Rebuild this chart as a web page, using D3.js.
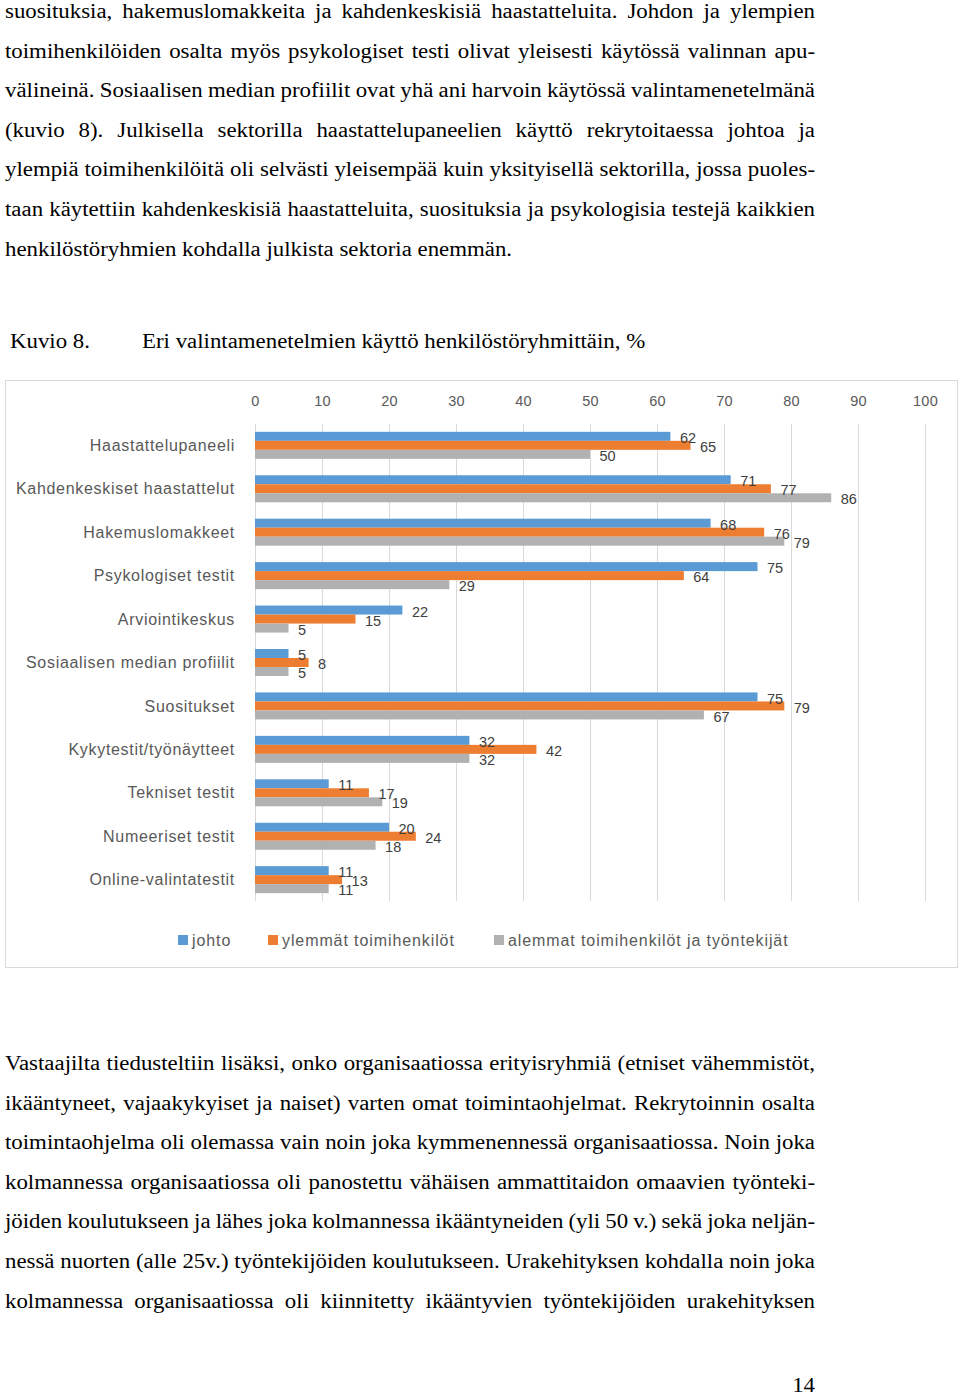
<!DOCTYPE html>
<html>
<head>
<meta charset="utf-8">
<script src="https://cdn.jsdelivr.net/npm/d3@7"></script>
<style>
  body { margin: 0; background: #fff; }
  svg { display: block; }
</style>
</head>
<body>
<svg id="page" width="960" height="1397"></svg>
<script>
// chart data (kuvio 8)
var categories = [
  'Haastattelupaneeli',
  'Kahdenkeskiset haastattelut',
  'Hakemuslomakkeet',
  'Psykologiset testit',
  'Arviointikeskus',
  'Sosiaalisen median profiilit',
  'Suositukset',
  'Kykytestit/työnäytteet',
  'Tekniset testit',
  'Numeeriset testit',
  'Online-valintatestit'
]
var seriesNames = ['johto', 'ylemmät toimihenkilöt', 'alemmat toimihenkilöt ja työntekijät']
var johto = [62, 71, 68, 75, 22, 5, 75, 32, 11, 20, 11]
var ylemmat = [65, 77, 76, 64, 15, 8, 79, 42, 17, 24, 13]
var alemmat = [50, 86, 79, 29, 5, 5, 67, 32, 19, 18, 11]
var xTicks = [0, 10, 20, 30, 40, 50, 60, 70, 80, 90, 100]

// page text around the figure
var topLines = [
  'suosituksia, hakemuslomakkeita ja kahdenkeskisiä haastatteluita. Johdon ja ylempien',
  'toimihenkilöiden osalta myös psykologiset testi olivat yleisesti käytössä valinnan apu-',
  'välineinä. Sosiaalisen median profiilit ovat yhä ani harvoin käytössä valintamenetelmänä',
  '(kuvio 8). Julkisella sektorilla haastattelupaneelien käyttö rekrytoitaessa johtoa ja',
  'ylempiä toimihenkilöitä oli selvästi yleisempää kuin yksityisellä sektorilla, jossa puoles-',
  'taan käytettiin kahdenkeskisiä haastatteluita, suosituksia ja psykologisia testejä kaikkien',
  'henkilöstöryhmien kohdalla julkista sektoria enemmän.'
]
var bottomLines = [
  'Vastaajilta tiedusteltiin lisäksi, onko organisaatiossa erityisryhmiä (etniset vähemmistöt,',
  'ikääntyneet, vajaakykyiset ja naiset) varten omat toimintaohjelmat. Rekrytoinnin osalta',
  'toimintaohjelma oli olemassa vain noin joka kymmenennessä organisaatiossa. Noin joka',
  'kolmannessa organisaatiossa oli panostettu vähäisen ammattitaidon omaavien työnteki-',
  'jöiden koulutukseen ja lähes joka kolmannessa ikääntyneiden (yli 50 v.) sekä joka neljän-',
  'nessä nuorten (alle 25v.) työntekijöiden koulutukseen. Urakehityksen kohdalla noin joka',
  'kolmannessa organisaatiossa oli kiinnitetty ikääntyvien työntekijöiden urakehityksen'
]

var colors = ['#5b9bd5', '#ed7d31', '#b1b1b1']
var svg = d3.select('#page')
var serif = '"Liberation Serif", "Times New Roman", serif'
var sans = '"Liberation Sans", Arial, sans-serif'
// the page font is a slightly wide Times, so serif text is stretched a bit
var stretch = 1.115

function serifText(x, y, str, anchor) {
  return svg
    .append('text')
    .attr('transform', 'translate(' + x + ',' + y + ') scale(' + stretch + ',1)')
    .attr('text-anchor', anchor || 'start')
    .attr('font-family', serif)
    .attr('font-size', 20.5)
    .attr('fill', '#000')
    .text(str)
}

// justified paragraph lines, word spacing stretched to the column width
function drawParagraph(lines, y0, lastJustified) {
  var lineH = 39.6,
    colW = 810 / stretch
  lines.forEach(function (line, i) {
    var t = serifText(5, y0 + i * lineH, line)
    var isLast = i == lines.length - 1
    if (!isLast || lastJustified) {
      var w = t.node().getComputedTextLength()
      var gaps = line.split(' ').length - 1
      if (gaps > 0) t.attr('word-spacing', (colW - w) / gaps)
    }
  })
}

drawParagraph(topLines, 18, false)
drawParagraph(bottomLines, 1070, true)

// caption
serifText(10, 348, 'Kuvio 8.')
serifText(142, 348, 'Eri valintamenetelmien käyttö henkilöstöryhmittäin, %')

// page number
serifText(815, 1392, '14', 'end')

// chart frame
svg.append('rect')
  .attr('x', 5.5).attr('y', 380.5).attr('width', 952).attr('height', 587)
  .attr('fill', '#fff').attr('stroke', '#d9d9d9')

var x = d3.scaleLinear().domain([0, 100]).range([255, 925])
var y = d3.scaleBand().domain(categories).range([424, 901])
  .paddingInner(0.378).paddingOuter(0.18)
var ySub = d3.scaleBand().domain([0, 1, 2]).range([0, y.bandwidth()])

var g = svg.append('g')

// gridlines
g.append('g')
  .attr('transform', 'translate(0,424)')
  .call(d3.axisBottom(x).tickValues(xTicks).tickSize(477).tickFormat(''))
  .call(function (s) {
    s.select('.domain').remove()
    s.selectAll('line').attr('stroke', '#d9d9d9')
  })

// tick labels on top
g.append('g')
  .attr('transform', 'translate(0,406)')
  .call(d3.axisTop(x).tickValues(xTicks).tickSize(0).tickPadding(0))
  .call(function (s) {
    s.select('.domain').remove()
    s.selectAll('text')
      .attr('font-family', sans)
      .attr('font-size', 14.5)
      .attr('letter-spacing', 0.3)
      .attr('fill', '#595959')
  })

// category labels
g.selectAll('.cat')
  .data(categories)
  .enter()
  .append('text')
  .attr('class', 'cat')
  .attr('x', 235)
  .attr('y', function (d) { return y(d) + y.bandwidth() / 2 })
  .attr('dy', '0.35em')
  .attr('text-anchor', 'end')
  .attr('font-family', sans)
  .attr('font-size', 16)
  .attr('letter-spacing', 0.7)
  .attr('fill', '#595959')
  .text(function (d) { return d })

var allSeries = [johto, ylemmat, alemmat]
var barData = []
allSeries.forEach(function (vals, si) {
  vals.forEach(function (v, ci) {
    barData.push({ cat: categories[ci], s: si, v: v })
  })
})

g.selectAll('.bar')
  .data(barData)
  .enter()
  .append('rect')
  .attr('class', 'bar')
  .attr('x', x(0))
  .attr('y', function (d) { return y(d.cat) + ySub(d.s) })
  .attr('width', function (d) { return x(d.v) - x(0) })
  .attr('height', ySub.bandwidth())
  .attr('fill', function (d) { return colors[d.s] })

g.selectAll('.bartext')
  .data(barData)
  .enter()
  .append('text')
  .attr('class', 'bartext')
  .attr('x', function (d) { return x(d.v) + 9.5 })
  .attr('y', function (d) { return y(d.cat) + ySub(d.s) + ySub.bandwidth() / 2 + 1.5 })
  .attr('dy', '0.35em')
  .attr('font-family', sans)
  .attr('font-size', 14.5)
  .attr('fill', '#404040')
  .text(function (d) { return d.v })

// legend
var legendX = [178, 268, 494]
var legend = g.selectAll('.legend')
  .data(seriesNames)
  .enter()
  .append('g')
  .attr('class', 'legend')
  .attr('transform', function (d, i) { return 'translate(' + legendX[i] + ',940)' })
legend.append('rect')
  .attr('x', 0).attr('y', -5).attr('width', 10).attr('height', 10)
  .attr('fill', function (d, i) { return colors[i] })
legend.append('text')
  .attr('x', 14).attr('dy', '0.35em')
  .attr('font-family', sans)
  .attr('font-size', 16)
  .attr('letter-spacing', 0.9)
  .attr('fill', '#595959')
  .text(function (d) { return d })
</script>
</body>
</html>
